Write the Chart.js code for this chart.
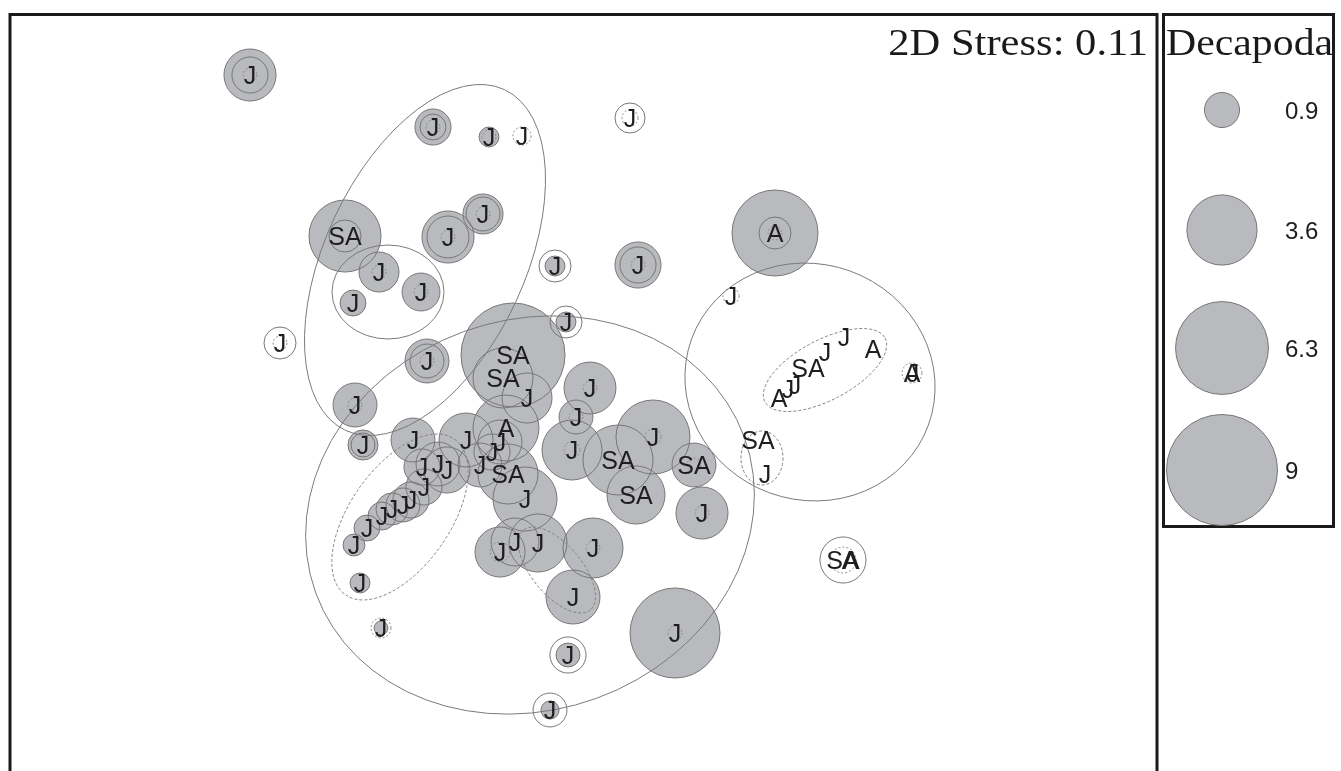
<!DOCTYPE html>
<html>
<head>
<meta charset="utf-8">
<script src="https://cdn.jsdelivr.net/npm/chart.js@4/dist/chart.umd.min.js"></script>
<style>
  html, body { margin: 0; padding: 0; background: #ffffff; }
  #wrap { width: 1341px; height: 771px; position: relative; }
</style>
</head>
<body>
<div id="wrap"><canvas id="c" width="1341" height="771"></canvas></div>
<script>
// NMDS ordination of samples, bubbles sized by Decapoda abundance
const sampleLabel = ['J','J','J','J','J','SA','J','J','J','J','J','J','J','J','J','J','J','J',
  'SA','SA','J','A','J','J','J','J','SA','J','J','J','J','J','SA','SA','SA','J','J','J','J','J','J','J',
  'J','J','J','J','J','J','J','J','J','J','J','J','J','J','J',
  'A','J','SA','J','J','A','J','J','A','A','J','SA','J','SA','A'];
const nmds1 = [-3.33,-1.50,-0.94,-0.61,0.47,-2.38,-1.35,-1.00,-2.04,-1.62,-2.30,-3.03,-0.28,0.55,-0.17,-1.56,-2.28,-2.20,
  -0.70,-0.80,-0.56,-0.77,-0.83,-0.91,-1.17,-1.03,-0.75,-0.58,0.07,-0.07,-0.11,0.70,0.35,0.53,1.11,1.19,0.10,-0.10,-0.83,-0.68,-0.45,0.92,
  -1.70,-1.61,-1.45,-1.36,-1.59,-1.72,-1.80,-1.91,-2.01,-2.16,-2.29,-2.23,-2.02,-0.15,-0.33,
  1.92,1.48,2.25,2.42,2.61,2.90,2.12,2.05,1.96,3.29,3.30,1.75,1.82,2.60,2.67];
const nmds2 = [3.19,2.67,2.57,2.58,2.76,1.58,1.57,1.80,1.22,1.02,0.91,0.51,1.28,1.29,0.72,0.33,-0.11,-0.51,
  0.39,0.16,-0.04,-0.34,-0.48,-0.58,-0.46,-0.71,-0.80,-1.05,0.06,-0.23,-0.56,-0.43,-0.66,-1.01,-0.71,-1.19,-1.54,-2.03,-1.58,-1.48,-1.49,-2.39,
  -0.46,-0.73,-0.70,-0.76,-0.93,-1.06,-1.11,-1.15,-1.22,-1.34,-1.51,-1.89,-2.34,-2.61,-3.16,
  1.61,0.98,0.26,0.42,0.57,0.45,0.09,0.05,-0.04,0.21,0.21,-0.46,-0.80,-1.66,-1.66];
const decapoda = [1.98,0.95,0.29,0,0,3.79,1.98,1.17,1.17,1.05,0.49,0,0.29,1.55,0.29,1.41,1.41,0.66,
  7.9,2.63,1.83,3.18,1.41,0.95,2.13,1.41,2.63,3.0,1.97,0.84,2.63,4.0,3.58,2.46,1.41,1.98,2.63,2.13,1.83,1.68,2.46,5.92,
  1.41,0.95,1.41,1.55,0.95,0.95,0.84,0.75,0.57,0.49,0.35,0.29,0.14,0.42,0.24,
  5.4,0,0,0,0,0,0,0,0,0,0,0,0,0,0];
// overlaid replicate bubbles (outline only)
const outerRing = [0.95,0.49,0,0,0.66,0.75,1.29,0.84,0,0,0,0.75,0.75,0.95,0.75,0.84,0,0.42,
  0,0,0,0,0,0,0,0,0,0,0,0,0,0,0,0,0,0,0,0,0,0,0,0,
  0,0,0,0,0,0,0,0,0,0,0,0,0,0.95,0.84,
  0.75,0,0,0,0,0,0,0,0,0,0,0,0,1.55,0];
// small dashed markers
const innerRing = [0.14,0.14,0.14,0.24,0.19,0,0.14,0.14,0.14,0.14,0,0.14,0,0.14,0,0.14,0.14,0,
  0,0,0,0,0,0,0,0,0,0,0.14,0.14,0.19,0.19,0,0,0.14,0.14,0.14,0,0.29,0,0,0.14,
  0,0,0,0,0,0,0,0,0,0,0,0,0.29,0,0,
  0.14,0.19,0,0,0,0,0,0,0,0.29,0,0,0,0.49,0];

const legendValues = [0.9, 3.6, 6.3, 9];
const legendLabels = ['0.9', '3.6', '6.3', '9'];

// cluster outlines: [centre x, centre y, semi-axis a, semi-axis b, angle in degrees]
const groupOutlines = [
  [-1.58, 1.34, 1.88, 1.00, 65],
  [-0.53, -1.21, 2.28, 1.95, 20],
  [-1.95, 1.02, 0.56, 0.47, 0],
  [2.27, 0.12, 1.26, 1.18, -20]
];
const subgroupOutlines = [
  [-1.83, -1.23, 0.95, 0.50, 55],
  [-0.26, -1.76, 0.52, 0.25, -50],
  [2.42, 0.24, 0.68, 0.30, 28],
  [1.79, -0.64, 0.21, 0.27, 0]
];

const BUBBLE_K = 18.5;
const bubbleRadius = v => BUBBLE_K * Math.sqrt(v);
const FILL = '#b9babe';
const EDGE = '#777777';

const fillPoints = nmds1.map((x, i) => ({ x, y: nmds2[i], r: bubbleRadius(decapoda[i]) }));
const ringPoints = nmds1.map((x, i) => ({ x, y: nmds2[i], r: bubbleRadius(outerRing[i]) }));

const overlayPlugin = {
  id: 'overlay',
  afterDatasetsDraw(chart) {
    const { ctx, scales: { x, y } } = chart;
    const area = chart.chartArea;
    ctx.save();
    ctx.beginPath();
    ctx.rect(area.left, area.top, area.right - area.left, area.bottom - area.top);
    ctx.clip();

    // dashed markers
    ctx.strokeStyle = '#8a8a8a';
    ctx.lineWidth = 1;
    ctx.setLineDash([2, 2]);
    innerRing.forEach((v, i) => {
      if (v <= 0) return;
      ctx.beginPath();
      ctx.arc(x.getPixelForValue(nmds1[i]), y.getPixelForValue(nmds2[i]), bubbleRadius(v), 0, Math.PI * 2);
      ctx.stroke();
    });

    const drawOutline = (o, dashed) => {
      const [cx, cy, a, b, ang] = o;
      const px = x.getPixelForValue(cx), py = y.getPixelForValue(cy);
      const rx = Math.abs(x.getPixelForValue(cx + a) - px);
      const ry = Math.abs(y.getPixelForValue(cy + b) - py);
      ctx.setLineDash(dashed ? [3, 2] : []);
      ctx.beginPath();
      ctx.ellipse(px, py, rx, ry, -ang * Math.PI / 180, 0, Math.PI * 2);
      ctx.stroke();
    };
    ctx.strokeStyle = '#7a7a7a';
    ctx.lineWidth = 1;
    groupOutlines.forEach(o => drawOutline(o, false));
    ctx.strokeStyle = '#808080';
    subgroupOutlines.forEach(o => drawOutline(o, true));
    ctx.setLineDash([]);

    // sample labels
    ctx.fillStyle = '#1e1e1e';
    ctx.font = '25px "Liberation Sans", Arial, sans-serif';
    ctx.textAlign = 'center';
    ctx.textBaseline = 'alphabetic';
    sampleLabel.forEach((t, i) => {
      ctx.fillText(t, x.getPixelForValue(nmds1[i]), y.getPixelForValue(nmds2[i]) + 9);
    });
    ctx.restore();
  },
  afterDraw(chart) {
    const ctx = chart.ctx;
    ctx.save();
    // frames
    ctx.strokeStyle = '#1a1a1a';
    ctx.lineWidth = 3;
    ctx.beginPath();
    ctx.moveTo(10, 771);
    ctx.lineTo(10, 14.5);
    ctx.lineTo(1157, 14.5);
    ctx.lineTo(1157, 771);
    ctx.stroke();
    ctx.strokeRect(1163.5, 14.5, 170, 512);

    // stress annotation and legend title
    ctx.fillStyle = '#1a1a1a';
    ctx.font = '38px "Liberation Serif", "Times New Roman", serif';
    ctx.textBaseline = 'alphabetic';
    const sx = 1.12;
    const stress = '2D Stress: 0.11';
    const w = ctx.measureText(stress).width * sx;
    ctx.save();
    ctx.translate(1148 - w, 55);
    ctx.scale(sx, 1);
    ctx.textAlign = 'left';
    ctx.fillText(stress, 0, 0);
    ctx.restore();
    ctx.save();
    ctx.translate(1166, 55);
    ctx.scale(1.1, 1);
    ctx.textAlign = 'left';
    ctx.fillText('Decapoda', 0, 0);
    ctx.restore();

    // bubble size key
    const keyY = [110, 230, 348, 470];
    ctx.font = '24px "Liberation Sans", Arial, sans-serif';
    ctx.textAlign = 'left';
    legendValues.forEach((v, i) => {
      ctx.beginPath();
      ctx.arc(1222, keyY[i], bubbleRadius(v), 0, Math.PI * 2);
      ctx.fillStyle = FILL;
      ctx.fill();
      ctx.strokeStyle = EDGE;
      ctx.lineWidth = 1;
      ctx.stroke();
      ctx.fillStyle = '#1e1e1e';
      ctx.fillText(legendLabels[i], 1285, keyY[i] + 9);
    });
    ctx.restore();
  }
};

new Chart(document.getElementById('c'), {
  type: 'bubble',
  data: {
    datasets: [
      // filled bubbles at the back, every outline drawn over them
      { data: fillPoints, backgroundColor: FILL, borderWidth: 0, hoverRadius: 0, order: 3 },
      { data: fillPoints, backgroundColor: 'rgba(0,0,0,0)', borderColor: EDGE, borderWidth: 1, hoverRadius: 0, order: 2 },
      { data: ringPoints, backgroundColor: 'rgba(0,0,0,0)', borderColor: EDGE, borderWidth: 1, hoverRadius: 0, order: 1 }
    ]
  },
  options: {
    responsive: false,
    devicePixelRatio: 1,
    animation: false,
    events: [],
    layout: { autoPadding: false, padding: { left: 12, right: 186, top: 17, bottom: 0 } },
    scales: {
      x: { display: false, min: -5.71, max: 5.72 },
      y: { display: false, min: -3.77, max: 3.77 }
    },
    plugins: { legend: { display: false }, tooltip: { enabled: false } }
  },
  plugins: [overlayPlugin]
});
</script>
</body>
</html>
